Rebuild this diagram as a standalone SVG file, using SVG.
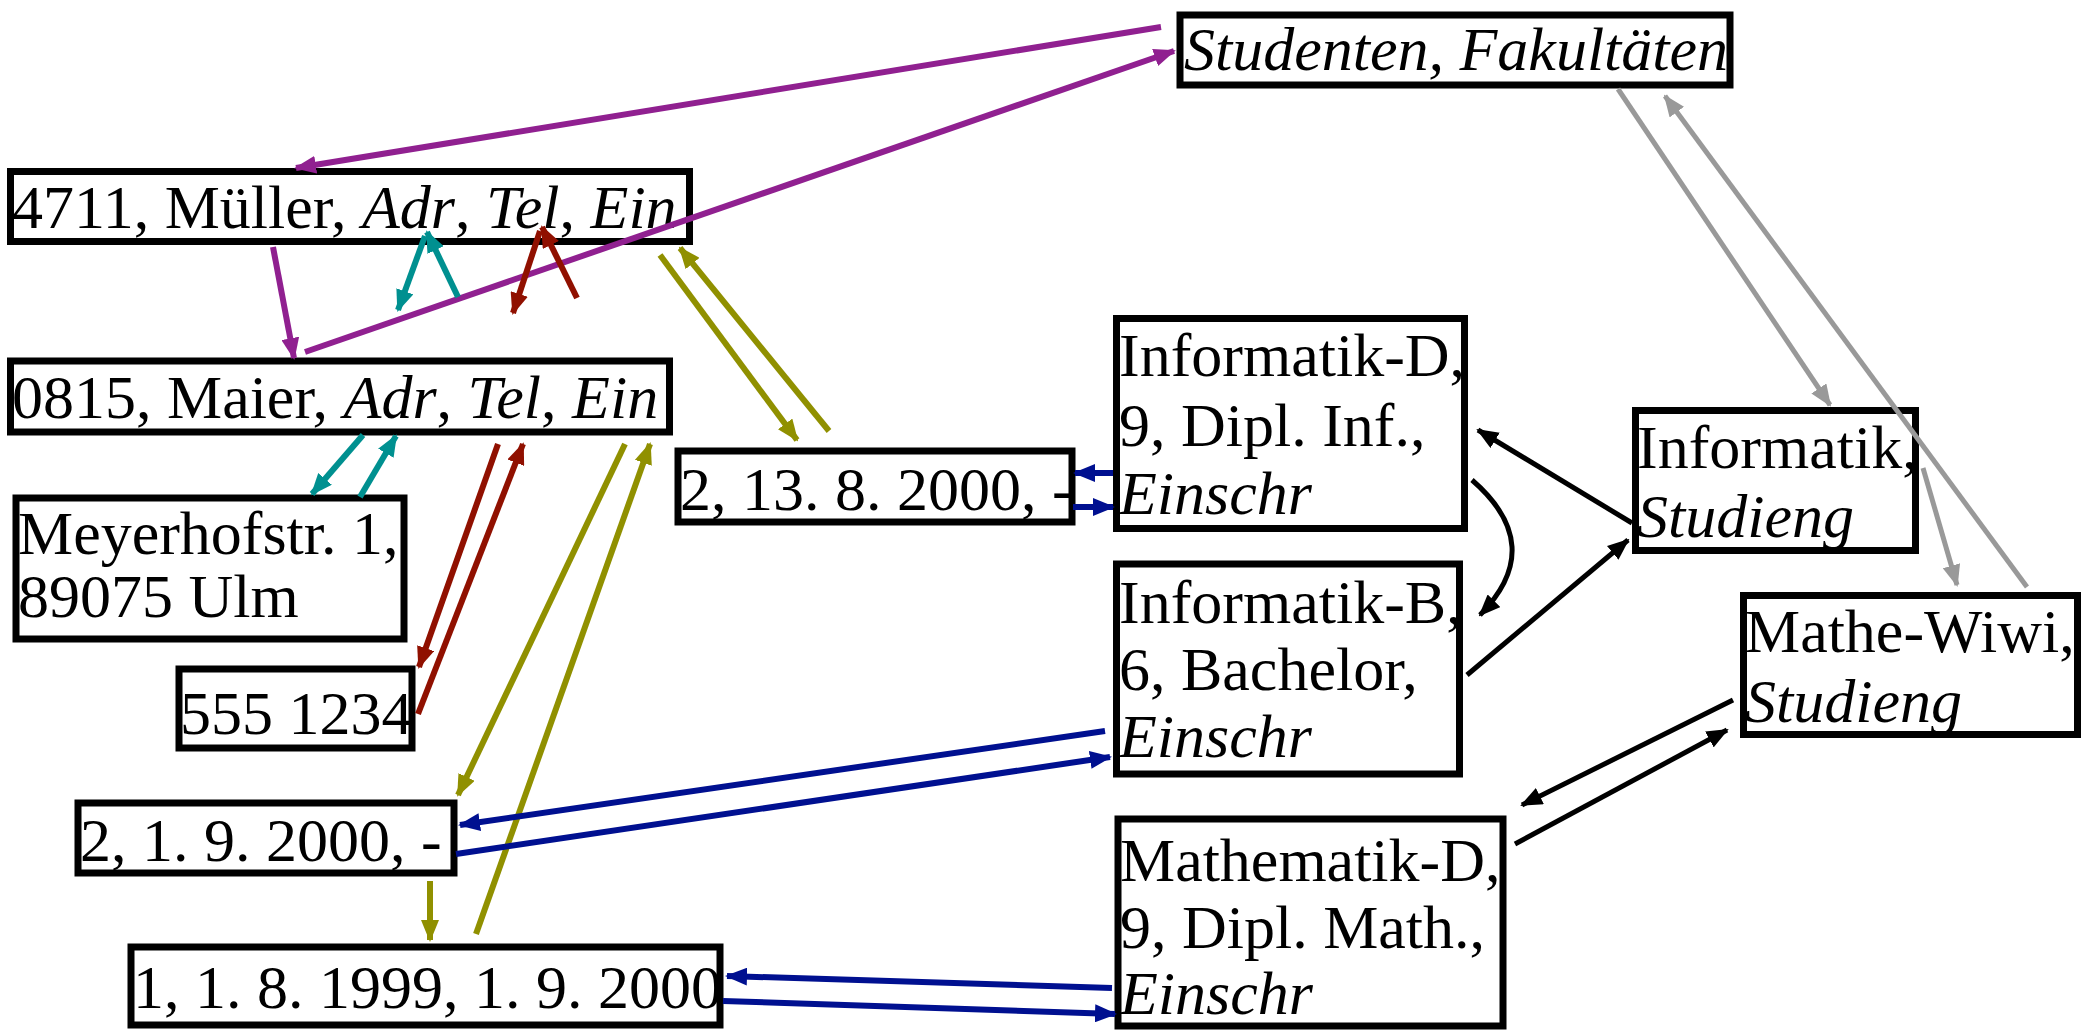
<svg xmlns="http://www.w3.org/2000/svg" width="2093" height="1033" viewBox="0 0 2093 1033">
<style>
.box{fill:none;stroke:#000;stroke-width:7}
.bg{fill:#fff;stroke:none}
text{font-family:"Liberation Serif","Times New Roman",serif;font-size:62px;fill:#000}
.i{font-style:italic}
.c{fill:none;stroke-width:6}
.pu{stroke:#902090}.te{stroke:#009090}.re{stroke:#901000}.ol{stroke:#909000}.nv{stroke:#001090}.bk{stroke:#000;stroke-width:5}.gr{stroke:#999;stroke-width:5}
</style>
<defs>
<marker id="mpu" markerUnits="userSpaceOnUse" markerWidth="22" markerHeight="18" refX="20" refY="9" orient="auto"><path d="M0,0 L22,9 L0,18 z" fill="#902090"/></marker>
<marker id="mte" markerUnits="userSpaceOnUse" markerWidth="22" markerHeight="18" refX="20" refY="9" orient="auto"><path d="M0,0 L22,9 L0,18 z" fill="#009090"/></marker>
<marker id="mre" markerUnits="userSpaceOnUse" markerWidth="22" markerHeight="18" refX="20" refY="9" orient="auto"><path d="M0,0 L22,9 L0,18 z" fill="#901000"/></marker>
<marker id="mol" markerUnits="userSpaceOnUse" markerWidth="22" markerHeight="18" refX="20" refY="9" orient="auto"><path d="M0,0 L22,9 L0,18 z" fill="#909000"/></marker>
<marker id="mnv" markerUnits="userSpaceOnUse" markerWidth="22" markerHeight="18" refX="20" refY="9" orient="auto"><path d="M0,0 L22,9 L0,18 z" fill="#001090"/></marker>
<marker id="mbk" markerUnits="userSpaceOnUse" markerWidth="22" markerHeight="18" refX="20" refY="9" orient="auto"><path d="M0,0 L22,9 L0,18 z" fill="#000"/></marker>
<marker id="mgr" markerUnits="userSpaceOnUse" markerWidth="22" markerHeight="18" refX="20" refY="9" orient="auto"><path d="M0,0 L22,9 L0,18 z" fill="#999"/></marker>
</defs>
<rect width="2093" height="1033" fill="#fff"/>

<g id="n-studenten"><rect class="bg" x="1180" y="15" width="550" height="70"/><text class="i" x="1184" y="70">Studenten, Fakultäten</text><rect class="box" x="1180" y="15" width="550" height="70"/></g>
<g id="n-mueller"><rect class="bg" x="10.5" y="171.5" width="679" height="70"/><text x="12" y="228">4711, Müller, <tspan class="i">Adr</tspan>, <tspan class="i">Tel</tspan>, <tspan class="i">Ein</tspan></text><rect class="box" x="10.5" y="171.5" width="679" height="70"/></g>
<g id="n-maier"><rect class="bg" x="10.5" y="361" width="659" height="71"/><text x="12" y="418">0815, Maier, <tspan class="i">Adr</tspan>, <tspan class="i">Tel</tspan>, <tspan class="i">Ein</tspan></text><rect class="box" x="10.5" y="361" width="659" height="71"/></g>
<g id="n-adresse"><rect class="bg" x="16" y="498" width="388" height="141"/><text x="18" y="554">Meyerhofstr. 1,</text><text x="18" y="617">89075 Ulm</text><rect class="box" x="16" y="498" width="388" height="141"/></g>
<g id="n-tel"><rect class="bg" x="179" y="669" width="233" height="79"/><text x="180" y="734">555 1234</text><rect class="box" x="179" y="669" width="233" height="79"/></g>
<g id="n-e1"><rect class="bg" x="678" y="451" width="394" height="71"/><text x="680" y="510">2, 13. 8. 2000, -</text><rect class="box" x="678" y="451" width="394" height="71"/></g>
<g id="n-infd"><rect class="bg" x="1116.5" y="318.5" width="348" height="210"/><text x="1119" y="376">Informatik-D,</text><text x="1119" y="446">9, Dipl. Inf.,</text><text class="i" x="1119" y="514">Einschr</text><rect class="box" x="1116.5" y="318.5" width="348" height="210"/></g>
<g id="n-infb"><rect class="bg" x="1116.5" y="564" width="343" height="210"/><text x="1119" y="623">Informatik-B,</text><text x="1119" y="690">6, Bachelor,</text><text class="i" x="1119" y="757">Einschr</text><rect class="box" x="1116.5" y="564" width="343" height="210"/></g>
<g id="n-mathd"><rect class="bg" x="1118" y="819" width="385" height="207"/><text x="1120" y="881">Mathematik-D,</text><text x="1120" y="948">9, Dipl. Math.,</text><text class="i" x="1120" y="1014">Einschr</text><rect class="box" x="1118" y="819" width="385" height="207"/></g>
<g id="n-inf"><rect class="bg" x="1635.5" y="410.5" width="280" height="140"/><text x="1637" y="468">Informatik,</text><text class="i" x="1637" y="537">Studieng</text><rect class="box" x="1635.5" y="410.5" width="280" height="140"/></g>
<g id="n-mw"><rect class="bg" x="1743.5" y="595.5" width="334" height="139"/><text x="1745" y="652">Mathe-Wiwi,</text><text class="i" x="1745" y="722">Studieng</text><rect class="box" x="1743.5" y="595.5" width="334" height="139"/></g>
<g id="n-e2"><rect class="bg" x="78" y="803" width="376" height="70"/><text x="80" y="861">2, 1. 9. 2000, -</text><rect class="box" x="78" y="803" width="376" height="70"/></g>
<g id="n-e3"><rect class="bg" x="131" y="947" width="589" height="78"/><text x="133" y="1008">1, 1. 8. 1999, 1. 9. 2000</text><rect class="box" x="131" y="947" width="589" height="78"/></g>

<g id="connectors">
<line class="c pu" x1="1161" y1="27" x2="296" y2="168" marker-end="url(#mpu)"/>
<line class="c pu" x1="305" y1="352" x2="1174" y2="51" marker-end="url(#mpu)"/>
<line class="c pu" x1="273" y1="247" x2="294" y2="358" marker-end="url(#mpu)"/>
<line class="c te" x1="458" y1="297" x2="427" y2="232" marker-end="url(#mte)"/>
<line class="c te" x1="425" y1="236" x2="398" y2="310" marker-end="url(#mte)"/>
<line class="c re" x1="577" y1="298" x2="542" y2="227" marker-end="url(#mre)"/>
<line class="c re" x1="540" y1="231" x2="513" y2="313" marker-end="url(#mre)"/>
<line class="c ol" x1="660" y1="255" x2="797" y2="440" marker-end="url(#mol)"/>
<line class="c ol" x1="829" y1="431" x2="680" y2="248" marker-end="url(#mol)"/>
<line class="c ol" x1="625" y1="444" x2="458" y2="795" marker-end="url(#mol)"/>
<line class="c ol" x1="476" y1="934" x2="650" y2="444" marker-end="url(#mol)"/>
<line class="c ol" x1="430" y1="881" x2="430" y2="940" marker-end="url(#mol)"/>
<line class="c re" x1="498" y1="444" x2="419" y2="667" marker-end="url(#mre)"/>
<line class="c re" x1="418" y1="714" x2="523" y2="444" marker-end="url(#mre)"/>
<line class="c te" x1="363" y1="435" x2="312" y2="494" marker-end="url(#mte)"/>
<line class="c te" x1="360" y1="497" x2="396" y2="436" marker-end="url(#mte)"/>
<line class="c nv" x1="1113" y1="473" x2="1075" y2="473" marker-end="url(#mnv)"/>
<line class="c nv" x1="1073" y1="507" x2="1113" y2="507" marker-end="url(#mnv)"/>
<line class="c nv" x1="1105" y1="731" x2="460" y2="825" marker-end="url(#mnv)"/>
<line class="c nv" x1="456" y1="854" x2="1110" y2="757" marker-end="url(#mnv)"/>
<line class="c nv" x1="1112" y1="988" x2="727" y2="976" marker-end="url(#mnv)"/>
<line class="c nv" x1="723" y1="1001" x2="1115" y2="1014" marker-end="url(#mnv)"/>
<line class="c bk" x1="1632" y1="523" x2="1478" y2="430" marker-end="url(#mbk)"/>
<path class="c bk" d="M1472,480 Q1548,546 1480,615" marker-end="url(#mbk)"/>
<line class="c bk" x1="1467" y1="675" x2="1628" y2="540" marker-end="url(#mbk)"/>
<line class="c bk" x1="1733" y1="700" x2="1522" y2="805" marker-end="url(#mbk)"/>
<line class="c bk" x1="1515" y1="844" x2="1727" y2="730" marker-end="url(#mbk)"/>
<line class="c gr" x1="1618" y1="89" x2="1830" y2="405" marker-end="url(#mgr)"/>
<line class="c gr" x1="2027" y1="587" x2="1665" y2="96" marker-end="url(#mgr)"/>
<line class="c gr" x1="1923" y1="468" x2="1957" y2="585" marker-end="url(#mgr)"/>
</g>
</svg>
